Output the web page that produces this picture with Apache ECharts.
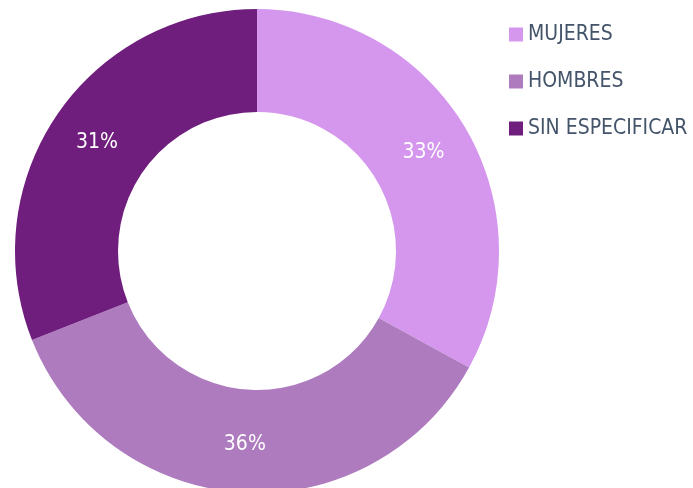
<!DOCTYPE html>
<html>
<head>
<meta charset="utf-8">
<script src="https://cdn.jsdelivr.net/npm/echarts@6/dist/echarts.min.js"></script>
<style>
  html, body { margin: 0; padding: 0; background: #ffffff; }
  #chart { width: 693px; height: 488px; }
</style>
</head>
<body>
<div id="chart"></div>
<script>
// Distribución por sexo
const categories = ['MUJERES', 'HOMBRES', 'SIN ESPECIFICAR'];
const values = [33, 36, 31];
const colors = ['#D597EE', '#AD7BBE', '#6F1E7D'];

const FONT = '"DejaVu Sans Condensed", "DejaVu Sans", sans-serif';

const chart = echarts.init(document.getElementById('chart'));
chart.setOption({
  animation: false,
  color: colors,
  legend: {
    orient: 'vertical',
    left: 509,
    top: 24,
    padding: 0,
    itemWidth: 14,
    itemHeight: 14,
    itemGap: 26,
    icon: 'rect',
    textStyle: { fontFamily: FONT, fontSize: 21, color: '#44546A' },
    data: categories
  },
  series: [{
    type: 'pie',
    center: [257, 251],
    radius: [139, 242],
    startAngle: 90,
    clockwise: true,
    avoidLabelOverlap: false,
    label: {
      position: 'inside',
      formatter: '{d}%',
      color: '#ffffff',
      fontFamily: FONT,
      fontSize: 21
    },
    labelLine: { show: false },
    itemStyle: { borderWidth: 0 },
    data: categories.map((name, i) => ({ name: name, value: values[i] }))
  }]
});
</script>
</body>
</html>
